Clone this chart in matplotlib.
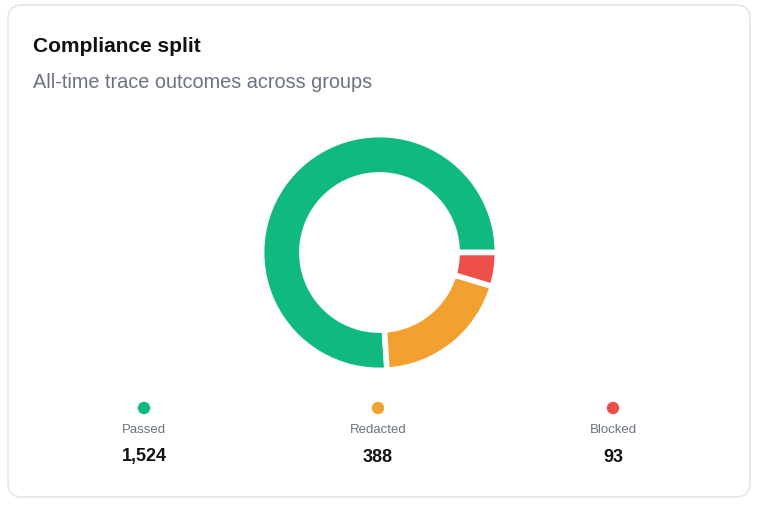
import matplotlib
matplotlib.use("Agg")
import matplotlib.pyplot as plt
from matplotlib.patches import FancyBboxPatch

plt.rcParams['font.family'] = ['Liberation Sans', 'DejaVu Sans']

labels = ['Passed', 'Redacted', 'Blocked']
values = [1524, 388, 93]
colors = ['#10b981', '#f2a131', '#ef4f4a']

W, H = 761, 505
fig = plt.figure(figsize=(W / 100, H / 100), dpi=100)
fig.patch.set_facecolor('white')

# full-figure overlay in pixel coords (y down)
bg = fig.add_axes([0, 0, 1, 1])
bg.set_xlim(0, W)
bg.set_ylim(H, 0)
bg.axis('off')

card = FancyBboxPatch((8, 5), 742, 492, boxstyle="round,pad=0,rounding_size=14",
                      facecolor='white', edgecolor='#e3e6ea', linewidth=1.2)
bg.add_patch(card)

bg.text(33, 46, 'Compliance split', fontsize=15, fontweight='bold',
        color='#111111', va='center', ha='left')
bg.text(33, 83, 'All-time trace outcomes across groups', fontsize=14.3,
        color='#6b7280', va='center', ha='left')

xs = [144, 378, 613]
for x, lab, val, col in zip(xs, labels, values, colors):
    bg.scatter([x], [408], s=80, color=col, edgecolors='none')
    bg.text(x, 430, lab, fontsize=9.5, color='#6b7280', ha='center', va='center')
    bg.text(x, 457, f'{val:,}', fontsize=13, fontweight='bold', color='#111111',
            ha='center', va='center')

# donut
cx, cy, r = 379.5, 252.5, 115
ax = fig.add_axes([(cx - r) / W, (H - cy - r) / H, 2 * r / W, 2 * r / H])
wedges, _ = ax.pie(values, colors=colors, startangle=0, counterclock=True, radius=1.025,
                   wedgeprops=dict(width=0.35, edgecolor='white', linewidth=4))
for w in wedges:
    w.set_clip_on(False)
ax.set_xlim(-1, 1)
ax.set_ylim(-1, 1)
ax.set_aspect('equal')
ax.axis('off')

fig.savefig('out.png', dpi=100, facecolor='white')
